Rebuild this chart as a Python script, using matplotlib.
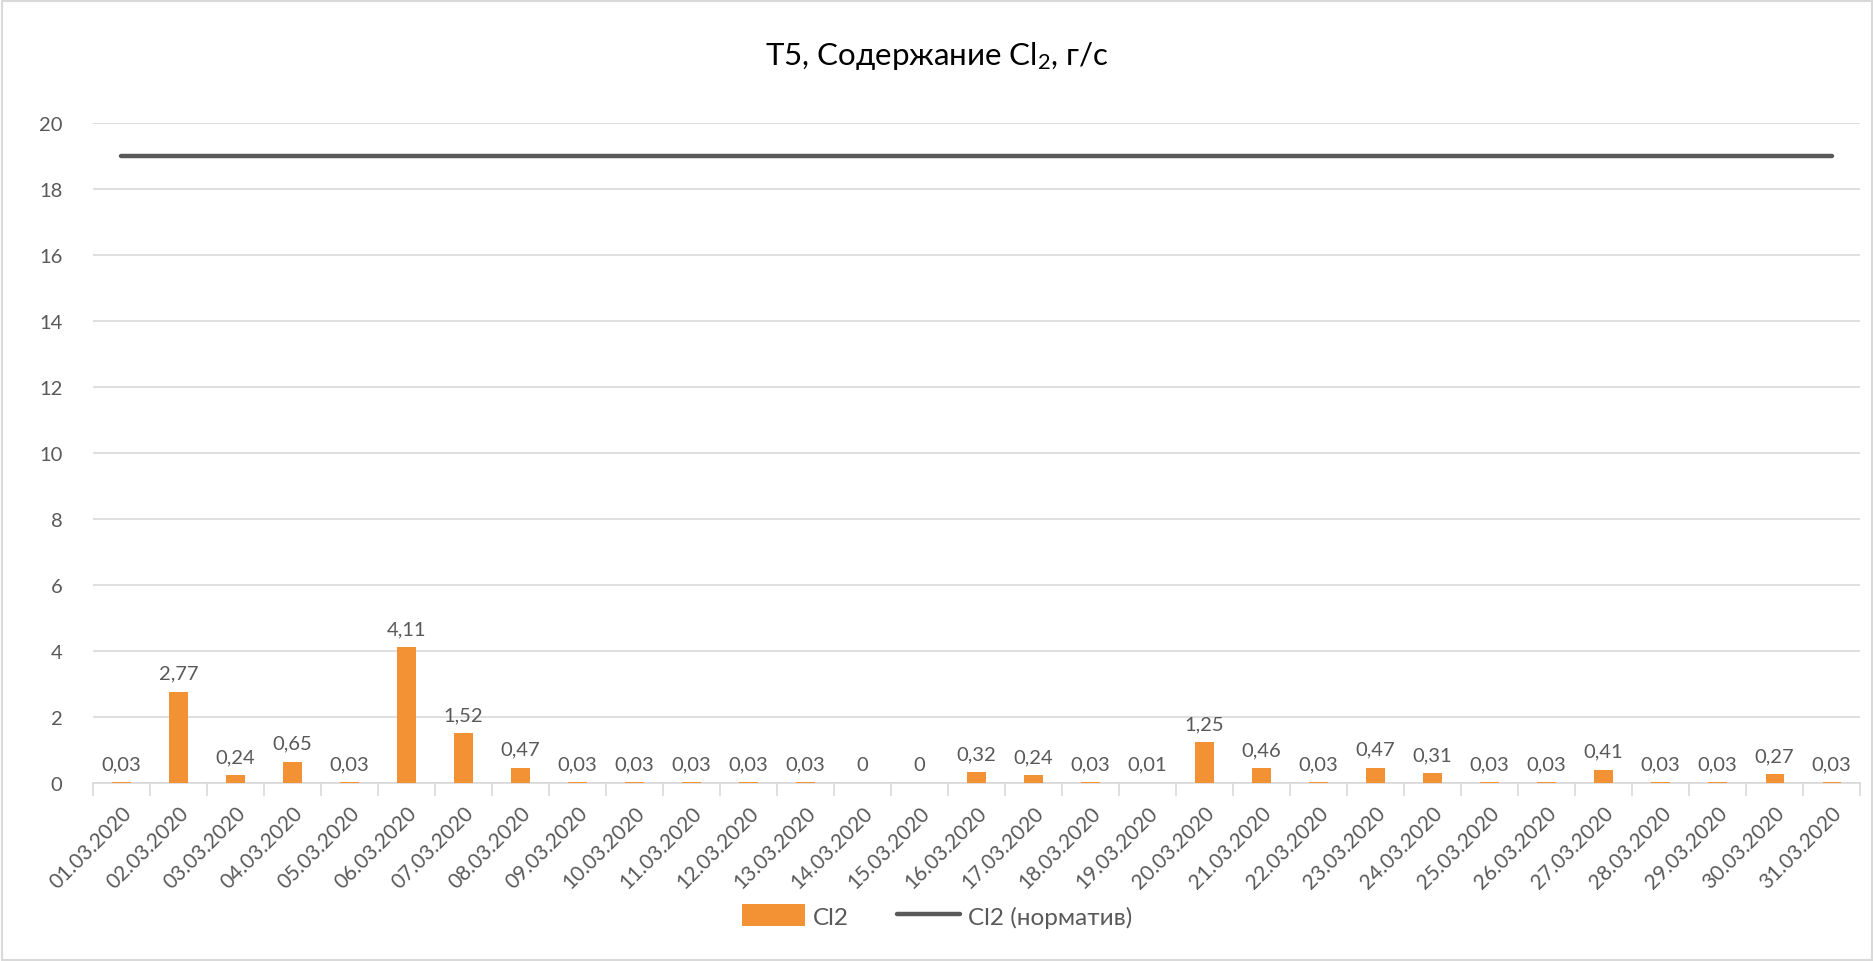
import matplotlib.pyplot as plt
from matplotlib.patches import Rectangle

plt.rcParams['font.family'] = ['Lato', 'DejaVu Sans']
plt.rcParams['mathtext.default'] = 'regular'

dates = ["%02d.03.2020" % d for d in range(1, 32)]
cl2 = [0.03, 2.77, 0.24, 0.65, 0.03, 4.11, 1.52, 0.47, 0.03, 0.03,
       0.03, 0.03, 0.03, 0, 0, 0.32, 0.24, 0.03, 0.01, 1.25,
       0.46, 0.03, 0.47, 0.31, 0.03, 0.03, 0.41, 0.03, 0.03, 0.27, 0.03]
norm = [19] * len(dates)

BAR = "#F39234"
LINE = "#595959"
TXT = "#595959"
GRID = "#D9D9D9"


def fmt(v):
    if v == 0:
        return "0"
    return ("%.2f" % v).replace(".", ",")


fig = plt.figure(figsize=(18.74, 9.62), dpi=100)
ax = fig.add_axes([0.0496, 0.185, 0.943, 0.686])

x = range(len(dates))
bars = ax.bar(x, cl2, width=0.32, color=BAR, zorder=3, label="Cl2")
line, = ax.plot(x, norm, color=LINE, lw=3.2, solid_capstyle="round", zorder=4, label="Cl2 (норматив)")

for i, v in enumerate(cl2):
    ax.text(i, v + 0.3, fmt(v), ha="center", va="bottom", fontsize=14.5, color=TXT, zorder=5)

ax.set_xlim(-0.5, len(dates) - 0.5)
ax.set_ylim(0, 20)
ax.set_yticks(range(0, 21, 2))
ax.set_xticks(list(x))
ax.set_xticklabels(dates, rotation=45, ha="right", rotation_mode="anchor")
ax.tick_params(axis="x", colors=TXT, labelsize=15, length=0, pad=14)
ax.tick_params(axis="y", colors=TXT, labelsize=14.5, length=0, pad=22)

ax.grid(axis="y", color=GRID, lw=1.2, zorder=0)
for s in ["top", "right", "left"]:
    ax.spines[s].set_visible(False)
ax.spines["bottom"].set_color(GRID)
ax.spines["bottom"].set_linewidth(1.2)

# small category tick marks below axis
for i in range(len(dates) + 1):
    ax.plot([i - 0.5, i - 0.5], [0, -0.35], color=GRID, lw=1.2, clip_on=False, zorder=2)

fig.suptitle("T5, Содержание Cl$_2$, г/с", y=0.958, fontsize=22.5, color="#000000")

fig.legend([bars, line], ["Cl2", "Cl2 (норматив)"], loc="lower center",
           bbox_to_anchor=(0.5, 0.012), ncol=2, frameon=False,
           fontsize=17.5, labelcolor=TXT, handlelength=2.6, handleheight=1.0,
           handletextpad=0.3, columnspacing=2.0)

fig.add_artist(Rectangle((0.001, 0.001), 0.998, 0.997, transform=fig.transFigure,
                         fill=False, edgecolor=GRID, lw=1.5))

fig.savefig("out.png", dpi=100)
